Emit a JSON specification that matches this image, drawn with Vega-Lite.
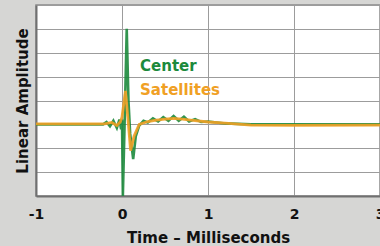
{
  "$schema": "https://vega.github.io/schema/vega-lite/v6.json",
  "width": 344,
  "height": 191,
  "autosize": {"type": "none"},
  "padding": {"left": 36, "top": 5, "right": 0, "bottom": 50},
  "background": "#d6d6d4",
  "config": {
    "view": {"fill": "#ffffff", "stroke": "#8a8a8a", "strokeWidth": 1.5},
    "font": "DejaVu Sans"
  },
  "datasets": {
    "traces": [
      {"t": -1, "v": 0, "s": "Center"},
      {"t": -0.22, "v": 0, "s": "Center"},
      {"t": -0.18, "v": 0.1, "s": "Center"},
      {"t": -0.14, "v": -0.08, "s": "Center"},
      {"t": -0.1, "v": 0.15, "s": "Center"},
      {"t": -0.06, "v": -0.15, "s": "Center"},
      {"t": -0.03, "v": 0.2, "s": "Center"},
      {"t": -0.01, "v": -0.2, "s": "Center"},
      {"t": 0.0, "v": 0.2, "s": "Center"},
      {"t": 0.01, "v": -3, "s": "Center"},
      {"t": 0.03, "v": 0, "s": "Center"},
      {"t": 0.055, "v": 4.0, "s": "Center"},
      {"t": 0.075, "v": 1.0, "s": "Center"},
      {"t": 0.095, "v": -0.4, "s": "Center"},
      {"t": 0.13, "v": -1.45, "s": "Center"},
      {"t": 0.16, "v": -0.5, "s": "Center"},
      {"t": 0.2, "v": -0.05, "s": "Center"},
      {"t": 0.25, "v": 0.15, "s": "Center"},
      {"t": 0.3, "v": 0.08, "s": "Center"},
      {"t": 0.36, "v": 0.25, "s": "Center"},
      {"t": 0.42, "v": 0.12, "s": "Center"},
      {"t": 0.48, "v": 0.3, "s": "Center"},
      {"t": 0.54, "v": 0.15, "s": "Center"},
      {"t": 0.6, "v": 0.35, "s": "Center"},
      {"t": 0.66, "v": 0.15, "s": "Center"},
      {"t": 0.72, "v": 0.32, "s": "Center"},
      {"t": 0.78, "v": 0.12, "s": "Center"},
      {"t": 0.85, "v": 0.22, "s": "Center"},
      {"t": 0.92, "v": 0.1, "s": "Center"},
      {"t": 1.0, "v": 0.12, "s": "Center"},
      {"t": 1.2, "v": 0.04, "s": "Center"},
      {"t": 1.5, "v": 0, "s": "Center"},
      {"t": 3, "v": 0, "s": "Center"},
      {"t": -1, "v": 0.02, "s": "Satellites"},
      {"t": -0.2, "v": 0.02, "s": "Satellites"},
      {"t": -0.12, "v": 0.08, "s": "Satellites"},
      {"t": -0.06, "v": -0.05, "s": "Satellites"},
      {"t": -0.02, "v": 0.1, "s": "Satellites"},
      {"t": 0.0, "v": 0.3, "s": "Satellites"},
      {"t": 0.04, "v": 1.4, "s": "Satellites"},
      {"t": 0.07, "v": 0.2, "s": "Satellites"},
      {"t": 0.1, "v": -1.1, "s": "Satellites"},
      {"t": 0.14, "v": -0.5, "s": "Satellites"},
      {"t": 0.2, "v": 0.0, "s": "Satellites"},
      {"t": 0.3, "v": 0.12, "s": "Satellites"},
      {"t": 0.4, "v": 0.18, "s": "Satellites"},
      {"t": 0.5, "v": 0.22, "s": "Satellites"},
      {"t": 0.6, "v": 0.25, "s": "Satellites"},
      {"t": 0.7, "v": 0.22, "s": "Satellites"},
      {"t": 0.8, "v": 0.18, "s": "Satellites"},
      {"t": 1.0, "v": 0.1, "s": "Satellites"},
      {"t": 1.2, "v": 0.05, "s": "Satellites"},
      {"t": 1.5, "v": -0.03, "s": "Satellites"},
      {"t": 2.0, "v": -0.04, "s": "Satellites"},
      {"t": 3, "v": -0.03, "s": "Satellites"}
    ],
    "labels": [
      {"t": 0.21, "v": 2.45, "label": "Center", "s": "Center"},
      {"t": 0.21, "v": 1.45, "label": "Satellites", "s": "Satellites"}
    ]
  },
  "encoding": {
    "x": {
      "field": "t", "type": "quantitative",
      "scale": {"domain": [-1, 3], "nice": false, "zero": false},
      "axis": {
        "values": [-1, 0, 1, 2, 3], "title": "Time – Milliseconds",
        "labelExpr": "datum.value < 0 ? '-' + abs(datum.value) : '' + datum.value",
        "grid": true, "gridColor": "#9c9c9c", "gridWidth": 1, "gridOpacity": 1,
        "ticks": false, "domainColor": "#707070", "domainWidth": 2,
        "labelFont": "DejaVu Sans", "labelFontSize": 14, "labelFontWeight": "bold",
        "labelColor": "#111111", "labelPadding": 11, "labelFlush": false,
        "titleFont": "DejaVu Sans", "titleFontSize": 15, "titleFontWeight": "bold",
        "titleColor": "#111111", "titlePadding": 9
      }
    },
    "y": {
      "field": "v", "type": "quantitative",
      "scale": {"domain": [-3, 5], "nice": false},
      "axis": {
        "values": [-3, -2, -1, 0, 1, 2, 3, 4, 5], "title": "Linear Amplitude",
        "labels": false, "ticks": false,
        "grid": true, "gridColor": "#9c9c9c", "gridWidth": 1, "gridOpacity": 1,
        "domainColor": "#707070", "domainWidth": 2,
        "titleFont": "DejaVu Sans", "titleFontSize": 15, "titleFontWeight": "bold",
        "titleColor": "#111111", "titlePadding": 6
      }
    },
    "color": {
      "field": "s", "type": "nominal",
      "scale": {"domain": ["Center", "Satellites"], "range": ["#1c8a3c", "#f0a024"]},
      "legend": null
    }
  },
  "layer": [
    {
      "data": {"name": "traces"},
      "mark": {"type": "line", "interpolate": "linear", "opacity": 0.9},
      "encoding": {
        "strokeWidth": {"field": "s", "type": "nominal", "scale": {"domain": ["Center", "Satellites"], "range": [2.6, 2.8]}, "legend": null},
        "order": {"field": "t", "type": "quantitative"}
      }
    },
    {
      "data": {"name": "labels"},
      "mark": {"type": "text", "align": "left", "baseline": "middle", "fontSize": 15, "fontWeight": "bold", "font": "DejaVu Sans"},
      "encoding": {"text": {"field": "label"}}
    }
  ]
}
